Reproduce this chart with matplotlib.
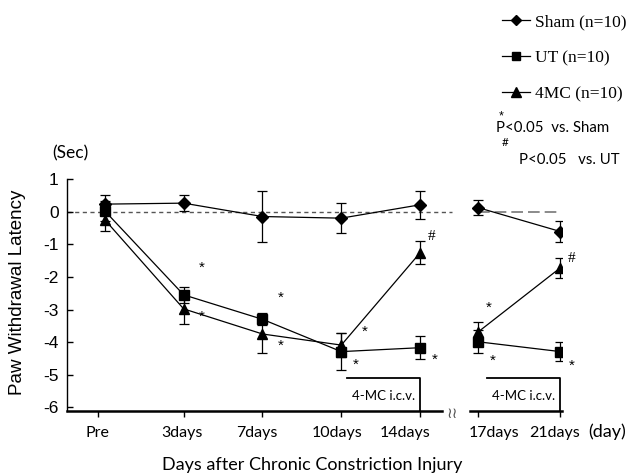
import matplotlib
matplotlib.use("Agg")
import matplotlib.pyplot as plt
from matplotlib.lines import Line2D
import numpy as np

# ---- data ----
x_labels = ['Pre', '3days', '7days', '10days', '14days', '17days', '21days']
x_pos = [0, 1, 2, 3, 4, 4.74, 5.78]            # marker positions
tick_pos = [-0.09, 1, 2, 3, 4, 4.74, 5.78]     # tick marks on the axis
label_pos = [-0.095, 0.98, 1.93, 2.95, 3.81, 4.94, 5.71]  # tick label centres
sham = [0.23, 0.26, -0.15, -0.20, 0.21, 0.12, -0.61]
sham_err = [0.28, 0.25, 0.77, 0.46, 0.43, 0.23, 0.32]
ut = [0.02, -2.55, -3.30, -4.29, -4.17, -3.99, -4.29]
ut_err = [0.30, 0.25, 0.18, 0.57, 0.35, 0.35, 0.30]
mc = [-0.25, -2.98, -3.75, -4.09, -1.26, -3.68, -1.72]
mc_err = [0.35, 0.47, 0.59, 0.36, 0.36, 0.30, 0.31]
y_ticks = [1, 0, -1, -2, -3, -4, -5, -6]

# significance marks
star_x = [1.23, 1.23, 2.23, 2.23, 3.3, 3.18, 4.19, 4.87, 4.92, 5.92]
star_y = [-1.73, -3.22, -2.64, -4.10, -3.68, -4.68, -4.55, -2.94, -4.58, -4.72]
hash_x = [4.15, 5.92]
hash_y = [-0.77, -1.45]

CAL = ['Lato', 'DejaVu Sans']
ARI = ['Liberation Sans', 'DejaVu Sans']
SER = ['Liberation Serif', 'DejaVu Serif']

fig = plt.figure(figsize=(6.32, 4.73), dpi=100)
ax = fig.add_axes([67/632, 1-411/473, (562-67)/632, (411-179)/473])
ax.set_xlim(-0.48, 5.8)
ax.set_ylim(-6.11, 1.0)

xp = np.array(x_pos)
segs = [slice(0, 5), slice(5, 7)]
series = [(sham, sham_err, 'D', 6), (ut, ut_err, 's', 6.5), (mc, mc_err, '^', 7.5)]
for vals, errs, mk, ms in series:
    v = np.array(vals); e = np.array(errs)
    for s in segs:
        ax.plot(xp[s], v[s], color='black', lw=0.9, marker=mk, ms=ms, zorder=3)
    ax.errorbar(xp, v, yerr=e, fmt='none', ecolor='black', elinewidth=0.9,
                capsize=3.5, capthick=0.9, zorder=2)

# zero reference lines
ax.plot([-0.48, 4.40], [0, 0], color='#555555', lw=1.0, ls=(0, (3, 2.5)), zorder=1)
ax.plot([4.74, 5.78], [0, 0], color='#777777', lw=1.2, ls=(0, (7, 3)), zorder=1)

# spines
for sp in ['top', 'right', 'bottom']:
    ax.spines[sp].set_visible(False)
ax.spines['left'].set_linewidth(1.0)
ax.plot([-0.48, 4.28], [-6.11, -6.11], color='black', lw=1.8, clip_on=False, zorder=4)
ax.plot([4.63, 5.8], [-6.11, -6.11], color='black', lw=1.8, clip_on=False, zorder=4)
ax.text(4.41, -6.18, '≀≀', fontsize=11, color='#555555', ha='center', va='center',
        family=['DejaVu Sans'])

# treatment boxes
for x0, x1, xl in [(3.07, 4.0, 3.53), (4.85, 5.78, 5.31)]:
    ax.plot([x0, x1, x1], [-5.1, -5.1, -6.11], color='black', lw=1.3, clip_on=False, zorder=4)
    ax.text(xl, -5.65, '4-MC i.c.v.', fontsize=9.5, family=CAL, ha='center', va='center')

# significance annotations
for x, y in zip(star_x, star_y):
    ax.text(x, y, '*', fontsize=11, ha='center', va='center', family=ARI)
for x, y in zip(hash_x, hash_y):
    ax.text(x, y, '#', fontsize=11, ha='center', va='center', family=SER)

# ticks
ax.set_xticks(tick_pos)
ax.set_xticklabels([])
ax.tick_params(axis='x', direction='out', length=4, width=1)
for lx, lab in zip(label_pos, x_labels):
    ax.text(lx, -6.11 - 22/32.6, lab, fontsize=11.5, family=CAL, ha='center', va='center')
ax.set_yticks(y_ticks)
ax.set_yticklabels([str(t) for t in y_ticks], fontsize=12.5, family=ARI)
ax.tick_params(axis='y', direction='in', length=4, width=1, pad=6)

fig.text(607/632, 1-432/473, '(day)', fontsize=13, family=CAL, ha='center', va='center')
fig.text(312/632, 1-465/473, 'Days after Chronic Constriction Injury', fontsize=13,
         family=CAL, ha='center', va='center')
fig.text(18/632, 1-292/473, 'Paw Withdrawal Latency', fontsize=13.5, family=ARI,
         rotation=90, ha='center', va='center')
fig.text(70/632, 1-153/473, '(Sec)', fontsize=12.5, family=CAL, ha='center', va='center')

# legend
handles = [Line2D([], [], color='black', lw=0.9, marker='D', ms=5),
           Line2D([], [], color='black', lw=0.9, marker='s', ms=6),
           Line2D([], [], color='black', lw=0.9, marker='^', ms=7)]
labels = ['Sham (n=10)', 'UT (n=10)', '4MC (n=10)']
fig.legend(handles, labels, loc='upper left', bbox_to_anchor=(502/632, 1-14/473),
           frameon=False, prop={'family': SER, 'size': 12.5}, handlelength=1.6,
           handletextpad=0.3, labelspacing=1.15, borderpad=0, borderaxespad=0)

fig.text(496/632, 1-128/473, 'P<0.05  vs. Sham', fontsize=10.8, family=CAL, va='center')
fig.text(501/632, 1-116/473, '*', fontsize=9, family=ARI, ha='center', va='center')
fig.text(505/632, 1-142/473, '#', fontsize=8.5, family=CAL, ha='center', va='center')
fig.text(519/632, 1-160/473, 'P<0.05   vs. UT', fontsize=10.8, family=CAL, va='center')

fig.savefig('out.png', dpi=100)
